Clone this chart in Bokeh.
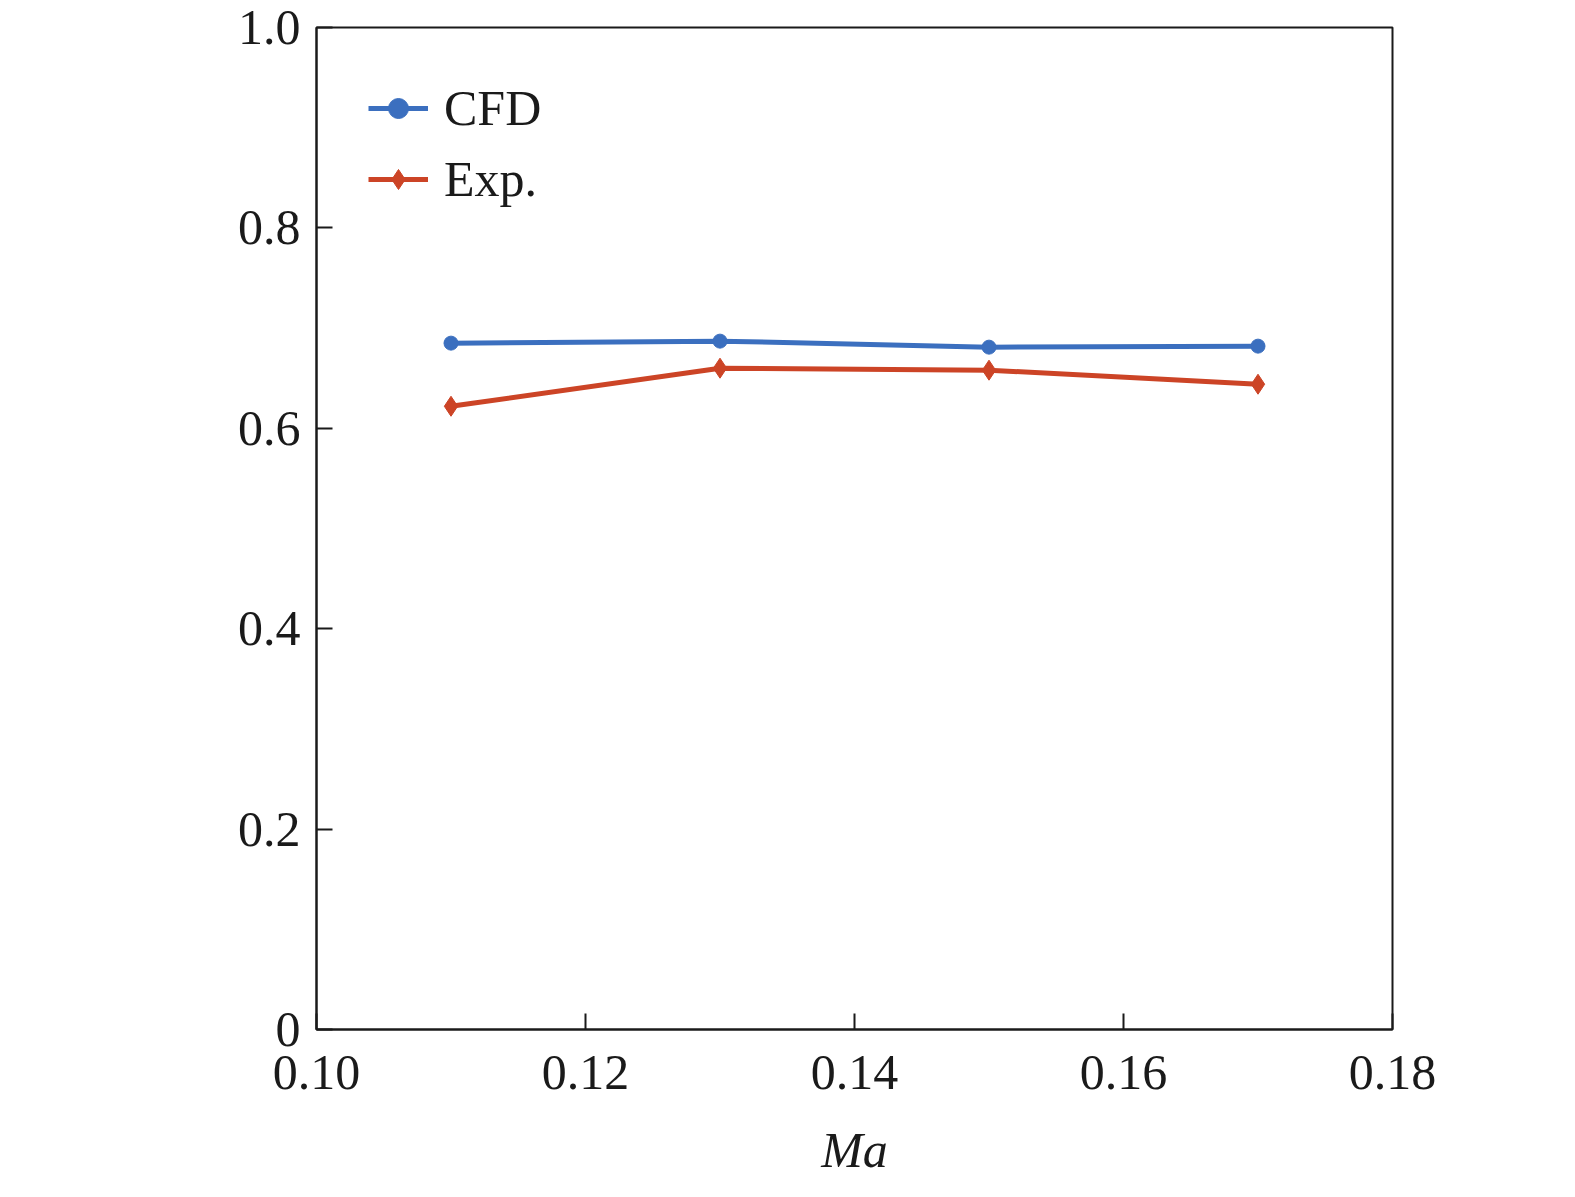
import numpy as np
from bokeh.models import Label, Legend, LegendItem, FixedTicker
from bokeh.plotting import figure
from bokeh.embed import file_html
from bokeh.resources import INLINE

ma = [0.11, 0.13, 0.15, 0.17]
cfd = [0.685, 0.687, 0.681, 0.682]
exp = [0.622, 0.660, 0.658, 0.644]

FONT = "Liberation Serif"
INK = "#1a1a1a"

p = figure(width=1559, height=1180, x_range=(0.10, 0.18), y_range=(0, 1.0),
           output_backend="svg", toolbar_location=None,
           min_border_left=316, min_border_right=167, min_border_top=27, min_border_bottom=142)
p.grid.visible = False
p.outline_line_color = INK
p.outline_line_width = 2

for ax in (p.xaxis, p.yaxis):
    ax.major_label_text_font = FONT
    ax.major_label_text_font_size = "50px"
    ax.major_label_text_color = INK
    ax.axis_line_width = 2
    ax.axis_line_color = INK
    ax.major_tick_line_width = 2
    ax.major_tick_line_color = INK
    ax.major_tick_in = 16
    ax.major_tick_out = 0
    ax.minor_tick_line_color = None
p.xaxis.ticker = FixedTicker(ticks=[0.10, 0.12, 0.14, 0.16, 0.18])
p.yaxis.ticker = FixedTicker(ticks=[0, 0.2, 0.4, 0.6, 0.8, 1.0])
p.xaxis.major_label_overrides = {0.1: "0.10", 0.12: "0.12", 0.14: "0.14", 0.16: "0.16", 0.18: "0.18"}
p.yaxis.major_label_overrides = {0: "0", 1: "1.0"}
p.xaxis.major_label_standoff = 26
p.yaxis.major_label_standoff = 16

p.xaxis.axis_label = "Ma"
p.xaxis.axis_label_text_font = FONT
p.xaxis.axis_label_text_font_style = "italic"
p.xaxis.axis_label_text_font_size = "50px"
p.xaxis.axis_label_text_color = INK
p.xaxis.axis_label_standoff = 30

blue = "#3b6fbf"
red = "#cc4426"
l1 = p.line(ma, cfd, line_color=blue, line_width=5)
m1 = p.scatter(ma, cfd, marker="circle", size=14, fill_color=blue, line_color=blue)
l2 = p.line(ma, exp, line_color=red, line_width=5)
m2 = p.scatter(ma, exp, marker="diamond", size=20, fill_color=red, line_color=red)

leg = Legend(items=[LegendItem(label="CFD", renderers=[l1, m1]),
                    LegendItem(label="Exp.", renderers=[l2, m2])],
             location="top_left", border_line_color=None, background_fill_alpha=0,
             label_text_font=FONT, label_text_font_size="50px", label_text_color=INK,
             glyph_width=60, glyph_height=50, spacing=13, label_standoff=16)
leg.margin = 52
p.add_layout(leg)

p.add_layout(Label(x=-136, y=463, x_units="screen", y_units="screen", text="I",
                   angle=np.pi / 2, text_font=FONT, text_font_style="italic",
                   text_font_size="56px", text_color=INK))
p.add_layout(Label(x=-128, y=497, x_units="screen", y_units="screen", text="ID,",
                   angle=np.pi / 2, text_font=FONT, text_font_size="34px", text_color=INK))
p.add_layout(Label(x=-128, y=542, x_units="screen", y_units="screen", text="α",
                   angle=np.pi / 2, text_font=FONT, text_font_style="italic",
                   text_font_size="34px", text_color=INK))

open("out.html", "w").write(file_html(p, INLINE))
